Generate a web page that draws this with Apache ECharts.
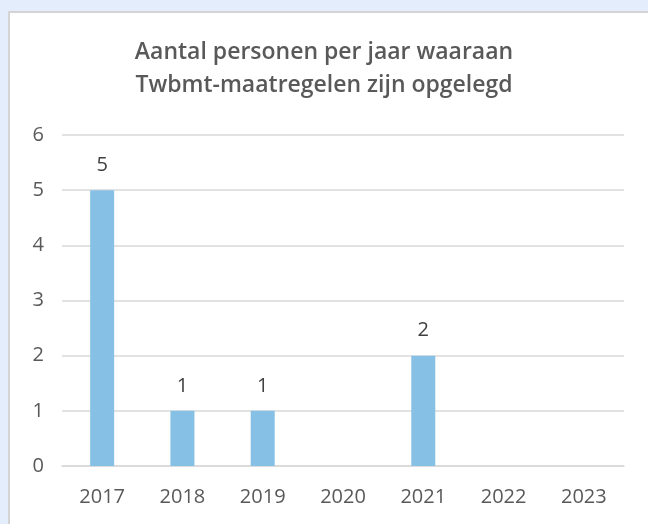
<!DOCTYPE html>
<html>
<head>
<meta charset="utf-8">
<script src="https://cdn.jsdelivr.net/npm/echarts@6/dist/echarts.min.js"></script>
<style>
  html, body { margin: 0; padding: 0; background: #e3edfb; }
  #panel { position: absolute; left: 8px; top: 11px; width: 640px; height: 513px;
           background: #fff; border-top: 2px solid #d4d4d4; border-left: 2px solid #d4d4d4; box-sizing: border-box; }
  #main { position: absolute; left: 0; top: 0; width: 648px; height: 524px; }
</style>
</head>
<body>
<div id="panel"></div>
<div id="main"></div>
<script>
  let years = ['2017', '2018', '2019', '2020', '2021', '2022', '2023'];
  let personen = [5, 1, 1, 0, 2, 0, 0];
  let font = '"Open Sans", sans-serif';

  let myChart = echarts.init(document.getElementById('main'));
  let option = {
    backgroundColor: 'transparent',
    title: {
      text: 'Aantal personen per jaar waaraan\nTwbmt-maatregelen zijn opgelegd',
      left: 'center',
      top: 31,
      textStyle: {
        color: '#595959',
        fontFamily: font,
        fontSize: 23,
        fontWeight: 600,
        lineHeight: 33
      }
    },
    grid: {
      left: 62,
      right: 24,
      top: 135,
      bottom: 58
    },
    xAxis: {
      type: 'category',
      data: years,
      axisLine: { show: true, lineStyle: { color: '#d9d9d9', width: 1.5 } },
      axisTick: { show: false },
      axisLabel: {
        color: '#595959',
        fontFamily: font,
        fontSize: 20,
        margin: 21
      }
    },
    yAxis: {
      type: 'value',
      min: 0,
      max: 6,
      interval: 1,
      axisLine: { show: false },
      axisTick: { show: false },
      splitLine: { lineStyle: { color: '#d9d9d9', width: 1.5 } },
      axisLabel: {
        color: '#595959',
        fontFamily: font,
        fontSize: 20,
        margin: 18
      }
    },
    series: [
      {
        name: 'personen',
        type: 'bar',
        data: personen,
        barWidth: 24,
        itemStyle: { color: '#86c1e5' },
        label: {
          show: true,
          position: 'top',
          distance: 15,
          color: '#404040',
          fontFamily: font,
          fontSize: 20,
          formatter: function (p) { return p.value > 0 ? p.value : ''; }
        }
      }
    ]
  };
  myChart.setOption(option);
</script>
</body>
</html>
